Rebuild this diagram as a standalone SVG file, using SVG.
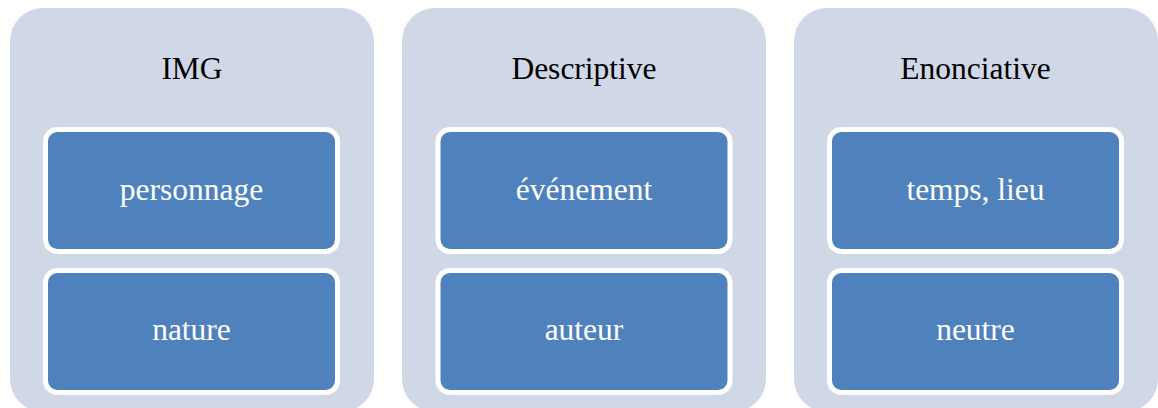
<svg xmlns="http://www.w3.org/2000/svg" width="1158" height="408" viewBox="0 0 1158 408">
<style>
.panel{fill:#D0D8E8;}
.box{fill:#4F81BD;stroke:#FFFFFF;stroke-width:5;}
.title{font-family:"Liberation Serif","Times New Roman",serif;font-size:31.5px;fill:#000000;text-anchor:middle;}
.label{font-family:"Liberation Serif","Times New Roman",serif;font-size:31.5px;fill:#FFFFFF;text-anchor:middle;}
</style>
<rect width="1158" height="408" fill="#FFFFFF"/>
<g id="col-img">
<rect class="panel" x="10" y="8" width="364" height="404" rx="33"/>
<text class="title" x="192" y="79">IMG</text>
</g>
<g id="img-personnage">
<rect class="box" x="45.5" y="129.5" width="292" height="122" rx="12"/>
<text class="label" x="191.5" y="200">personnage</text>
</g>
<g id="img-nature">
<rect class="box" x="45.5" y="270.5" width="292" height="122" rx="12"/>
<text class="label" x="191.5" y="340">nature</text>
</g>
<g id="col-descriptive">
<rect class="panel" x="402" y="8" width="364" height="404" rx="33"/>
<text class="title" x="584" y="79">Descriptive</text>
</g>
<g id="desc-evenement">
<rect class="box" x="438" y="129.5" width="292" height="122" rx="12"/>
<text class="label" x="584" y="200">événement</text>
</g>
<g id="desc-auteur">
<rect class="box" x="438" y="270.5" width="292" height="122" rx="12"/>
<text class="label" x="584" y="340">auteur</text>
</g>
<g id="col-enonciative">
<rect class="panel" x="794" y="8" width="364" height="404" rx="33"/>
<text class="title" x="975.5" y="79">Enonciative</text>
</g>
<g id="enon-temps">
<rect class="box" x="829.5" y="129.5" width="292" height="122" rx="12"/>
<text class="label" x="975.5" y="200">temps, lieu</text>
</g>
<g id="enon-neutre">
<rect class="box" x="829.5" y="270.5" width="292" height="122" rx="12"/>
<text class="label" x="975.5" y="340">neutre</text>
</g>
<g id="connectors"/>
</svg>
